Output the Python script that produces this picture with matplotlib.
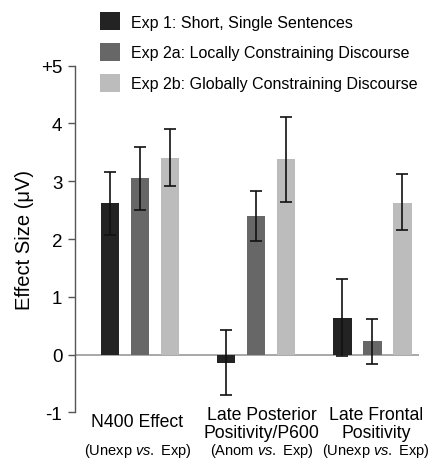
import numpy as np
import matplotlib.pyplot as plt
from matplotlib.patches import Patch
from matplotlib.transforms import blended_transform_factory

plt.rcParams['font.family'] = ['Liberation Sans', 'DejaVu Sans']
plt.rcParams['mathtext.fontset'] = 'custom'
plt.rcParams['mathtext.rm'] = 'Liberation Sans'
plt.rcParams['mathtext.it'] = 'Liberation Sans:italic'

# data
experiments = ['Exp 1: Short, Single Sentences',
               'Exp 2a: Locally Constraining Discourse',
               'Exp 2b: Globally Constraining Discourse']
categories = [['N400 Effect', '(Unexp $\\it{vs.}$ Exp)'],
              ['Late Posterior', 'Positivity/P600', '(Anom $\\it{vs.}$ Exp)'],
              ['Late Frontal', 'Positivity', '(Unexp $\\it{vs.}$ Exp)']]
means = np.array([[2.62, -0.14, 0.63],
                  [3.06, 2.39, 0.24],
                  [3.40, 3.39, 2.63]])
err_low = np.array([[2.07, -0.70, -0.02],
                    [2.51, 1.97, -0.16],
                    [2.92, 2.64, 2.15]])
err_high = np.array([[3.16, 0.42, 1.30],
                     [3.60, 2.83, 0.62],
                     [3.90, 4.11, 3.12]])
colors = ['#232323', '#676767', '#bcbcbc']
yticks = [-1, 0, 1, 2, 3, 4, 5]
yticklabels = ['-1', '0', '1', '2', '3', '4', '+5']

fig = plt.figure(figsize=(4.3, 4.6), dpi=100)
ax = fig.add_axes([0.174, 0.1015, 0.8, 0.7535])

x = np.arange(len(categories))
width = 0.159
offsets = [-0.258, 0, 0.258]
for i in range(3):
    yerr = [means[i] - err_low[i], err_high[i] - means[i]]
    ax.bar(x + offsets[i], means[i], width, color=colors[i], zorder=2)
    ax.errorbar(x + offsets[i], means[i], yerr=yerr, fmt='none',
                ecolor='#111111', elinewidth=1.2, capsize=4, capthick=1.2, zorder=3)

ax.axhline(0, color='#999999', lw=1.2, zorder=1)
ax.set_xlim(-0.559, 2.40)
ax.set_ylim(-1, 5)
ax.set_yticks(yticks)
ax.set_yticklabels(yticklabels, fontsize=13.5)
ax.set_xticks([])
for s in ['top', 'right', 'bottom']:
    ax.spines[s].set_visible(False)
ax.spines['left'].set_color('#555555')
ax.spines['left'].set_linewidth(1.0)
ax.tick_params(axis='y', length=5, color='#555555', width=1.0, pad=4)
ax.set_ylabel('Effect Size (\u03bcV)', fontsize=14.5, labelpad=5)

# category labels under the groups
label_shift = [-0.02, 0.05, 0.03]
trans = blended_transform_factory(ax.transData, fig.transFigure)
for xi, dx, lines in zip(x, label_shift, categories):
    xl = xi + dx
    if len(lines) == 2:
        ax.text(xl, 1 - 423 / 460, lines[0], transform=trans, ha='center',
                va='center', fontsize=12.7)
    else:
        ax.text(xl, 1 - 416 / 460, lines[0], transform=trans, ha='center',
                va='center', fontsize=12.7)
        ax.text(xl, 1 - 434 / 460, lines[1], transform=trans, ha='center',
                va='center', fontsize=12.7)
    ax.text(xl, 1 - 451 / 460, lines[-1], transform=trans, ha='center',
            va='center', fontsize=10.5)

handles = [Patch(facecolor=c, edgecolor='none') for c in colors]
fig.legend(handles, experiments, loc='upper left', bbox_to_anchor=(0.206, 0.995),
           frameon=False, fontsize=11.5, handlelength=1.25, handleheight=1.35,
           labelspacing=0.8, handletextpad=0.7, borderaxespad=0.3)

fig.savefig('out.png', dpi=100)
